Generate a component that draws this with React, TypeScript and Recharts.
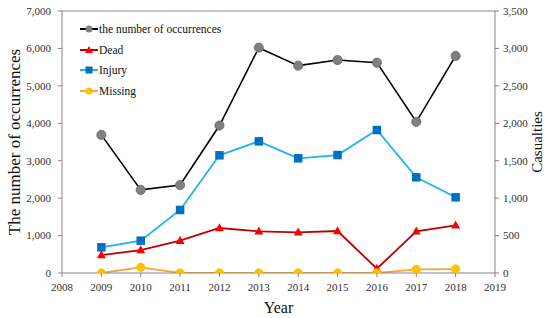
import React from 'react';
import { LineChart, Line, XAxis, YAxis } from 'recharts';

const years = [2009, 2010, 2011, 2012, 2013, 2014, 2015, 2016, 2017, 2018];
const occurrences = [3690, 2220, 2350, 3940, 6020, 5540, 5690, 5620, 4040, 5800];
const dead = [240, 307, 432, 601, 557, 543, 561, 57, 557, 637];
const injury = [343, 432, 842, 1572, 1759, 1532, 1576, 1910, 1278, 1011];
const missing = [0, 76, 0, 0, 0, 0, 0, 0, 49, 53];

const xTicks = [2008, 2009, 2010, 2011, 2012, 2013, 2014, 2015, 2016, 2017, 2018, 2019];
const leftTicks = [0, 1000, 2000, 3000, 4000, 5000, 6000, 7000];
const rightTicks = [0, 500, 1000, 1500, 2000, 2500, 3000, 3500];

const xMinorTicks: number[] = [];
for (let i = 0; i <= 55; i++) xMinorTicks.push((2008 * 5 + i) / 5);
const leftMinorTicks: number[] = [];
for (let v = 0; v <= 7000; v += 200) leftMinorTicks.push(v);
const rightMinorTicks: number[] = [];
for (let v = 0; v <= 3500; v += 100) rightMinorTicks.push(v);

const data = years.map((y, i) => ({
  year: y,
  occurrences: occurrences[i],
  dead: dead[i],
  injury: injury[i],
  missing: missing[i],
}));

const FONT = '"Liberation Serif", "Times New Roman", serif';
const AXIS = '#868686';
const TEXT = '#303030';

const C_OCC_LINE = '#000000';
const C_OCC_DOT = '#7f7f7f';
const C_DEAD_LINE = '#c00000';
const C_DEAD_DOT = '#ff0000';
const C_INJ_LINE = '#1fb4ee';
const C_INJ_DOT = '#0070c0';
const C_MIS_LINE = '#f8a238';
const C_MIS_DOT = '#ffc000';

const fmt = (v: number) => v.toLocaleString('en-US');

const circleDot = (fill: string, r: number, stroke?: string) => (p: any) => {
  if (p.cx == null || p.cy == null) return <g key={p.index} />;
  return <circle key={p.index} cx={p.cx} cy={p.cy} r={r} fill={fill} stroke={stroke || fill} strokeWidth={0.8} />;
};
const squareDot = (fill: string, s: number) => (p: any) => {
  if (p.cx == null || p.cy == null) return <g key={p.index} />;
  return <rect key={p.index} x={p.cx - s / 2} y={p.cy - s / 2} width={s} height={s} fill={fill} />;
};
const triDot = (fill: string, s: number) => (p: any) => {
  if (p.cx == null || p.cy == null) return <g key={p.index} />;
  const h = s * 0.9;
  return (
    <polygon
      key={p.index}
      points={`${p.cx},${p.cy - h * 0.6} ${p.cx + s / 2},${p.cy + h * 0.4} ${p.cx - s / 2},${p.cy + h * 0.4}`}
      fill={fill}
    />
  );
};

const legendItems = [
  { name: 'the number of occurrences', line: C_OCC_LINE, dot: C_OCC_DOT, shape: 'circle' },
  { name: 'Dead', line: C_DEAD_LINE, dot: C_DEAD_DOT, shape: 'triangle' },
  { name: 'Injury', line: C_INJ_LINE, dot: C_INJ_DOT, shape: 'square' },
  { name: 'Missing', line: C_MIS_LINE, dot: C_MIS_DOT, shape: 'circle' },
];

const LegendIcon = ({ item }: { item: any }) => (
  <svg width={18} height={12} style={{ display: 'block' }}>
    <line x1={0} y1={6} x2={18} y2={6} stroke={item.line} strokeWidth={2} />
    {item.shape === 'circle' && <circle cx={9} cy={6} r={3.5} fill={item.dot} />}
    {item.shape === 'square' && <rect x={5.5} y={2.5} width={7} height={7} fill={item.dot} />}
    {item.shape === 'triangle' && <polygon points="9,2 13,9 5,9" fill={item.dot} />}
  </svg>
);

const leftLabel = (p: any) => {
  const vb = p.viewBox;
  const x = vb.x + 14;
  const y = vb.y + vb.height / 2;
  return (
    <text x={x} y={y} transform={`rotate(-90, ${x}, ${y})`} textAnchor="middle" dominantBaseline="central"
      fontFamily={FONT} fontSize={17} fill="#111">
      The number of occurrences
    </text>
  );
};
const rightLabel = (p: any) => {
  const vb = p.viewBox;
  const x = vb.x + vb.width - 10;
  const y = vb.y + vb.height / 2;
  return (
    <text x={x} y={y} transform={`rotate(-90, ${x}, ${y})`} textAnchor="middle" dominantBaseline="central"
      fontFamily={FONT} fontSize={15} fill="#111">
      Casualties
    </text>
  );
};
const bottomLabel = (p: any) => {
  const vb = p.viewBox;
  const x = vb.x + vb.width / 2;
  const y = vb.y + 34;
  return (
    <text x={x} y={y} textAnchor="middle" dominantBaseline="central" fontFamily={FONT} fontSize={16} fill="#111">
      Year
    </text>
  );
};

const tickStyle = { fontSize: 11, fill: TEXT, fontFamily: FONT };

const css = `
  .chart-root, .chart-root text, .chart-root tspan, .chart-root span, .chart-root div {
    font-family: "Liberation Serif", "Times New Roman", serif !important;
  }
`;

export default function App() {
  return (
    <div className="chart-root" style={{ position: 'absolute', left: 0, top: 0, width: 547, height: 318, background: '#fff', fontFamily: FONT }}>
      <style>{css}</style>
      <LineChart width={547} height={318} data={data} margin={{ top: 11, right: 0, bottom: 0, left: 0 }}
        style={{ fontFamily: FONT }}>
        <XAxis
          xAxisId="x"
          dataKey="year"
          type="number"
          domain={[2008, 2019]}
          allowDataOverflow
          ticks={xTicks}
          interval={0}
          height={45}
          tickSize={4}
          tickMargin={6}
          tick={tickStyle}
          axisLine={{ stroke: AXIS }}
          tickLine={{ stroke: AXIS }}
          label={bottomLabel}
        />
        <XAxis
          xAxisId="xMinor"
          type="number"
          domain={[2008, 2019]}
          allowDataOverflow
          ticks={xMinorTicks}
          interval={0}
          mirror
          tick={false}
          tickSize={3}
          axisLine={false}
          tickLine={{ stroke: AXIS }}
        />
        <XAxis
          xAxisId="top"
          orientation="top"
          type="number"
          domain={[2008, 2019]}
          allowDataOverflow
          mirror
          tick={false}
          tickLine={false}
          axisLine={{ stroke: AXIS }}
        />
        <YAxis
          yAxisId="left"
          type="number"
          domain={[0, 7000]}
          allowDataOverflow
          ticks={leftTicks}
          interval={0}
          width={62}
          tickSize={4}
          tickMargin={7}
          tick={tickStyle}
          tickFormatter={fmt}
          axisLine={{ stroke: AXIS }}
          tickLine={{ stroke: AXIS }}
          label={leftLabel}
        />
        <YAxis
          yAxisId="leftMinor"
          type="number"
          domain={[0, 7000]}
          allowDataOverflow
          ticks={leftMinorTicks}
          interval={0}
          mirror
          width={10}
          tick={false}
          tickSize={3}
          axisLine={false}
          tickLine={{ stroke: AXIS }}
        />
        <YAxis
          yAxisId="right"
          orientation="right"
          type="number"
          domain={[0, 3500]}
          allowDataOverflow
          ticks={rightTicks}
          interval={0}
          width={52}
          tickSize={4}
          tickMargin={4}
          tick={tickStyle}
          tickFormatter={fmt}
          axisLine={{ stroke: AXIS }}
          tickLine={{ stroke: AXIS }}
          label={rightLabel}
        />
        <YAxis
          yAxisId="rightMinor"
          orientation="right"
          type="number"
          domain={[0, 3500]}
          allowDataOverflow
          ticks={rightMinorTicks}
          interval={0}
          mirror
          width={10}
          tick={false}
          tickSize={3}
          axisLine={false}
          tickLine={{ stroke: AXIS }}
        />
        <Line xAxisId="x" yAxisId="left" dataKey="occurrences" stroke={C_OCC_LINE} strokeWidth={1.6}
          dot={circleDot(C_OCC_DOT, 4.6, '#6a6a6a')} isAnimationActive={false} />
        <Line xAxisId="x" yAxisId="right" dataKey="injury" stroke={C_INJ_LINE} strokeWidth={1.8}
          dot={squareDot(C_INJ_DOT, 8.5)} isAnimationActive={false} />
        <Line xAxisId="x" yAxisId="right" dataKey="dead" stroke={C_DEAD_LINE} strokeWidth={1.8}
          dot={triDot(C_DEAD_DOT, 9)} isAnimationActive={false} />
        <Line xAxisId="x" yAxisId="right" dataKey="missing" stroke={C_MIS_LINE} strokeWidth={1.8}
          dot={circleDot(C_MIS_DOT, 4.2)} isAnimationActive={false} />
      </LineChart>
      <div style={{ position: 'absolute', left: 80, top: 19, fontFamily: FONT, fontSize: 11.5, color: '#111' }}>
        {legendItems.map((it) => (
          <div key={it.name} style={{ display: 'flex', alignItems: 'center', height: 20.5, whiteSpace: 'nowrap' }}>
            <LegendIcon item={it} />
            <span style={{ marginLeft: 1 }}>{it.name}</span>
          </div>
        ))}
      </div>
    </div>
  );
}
